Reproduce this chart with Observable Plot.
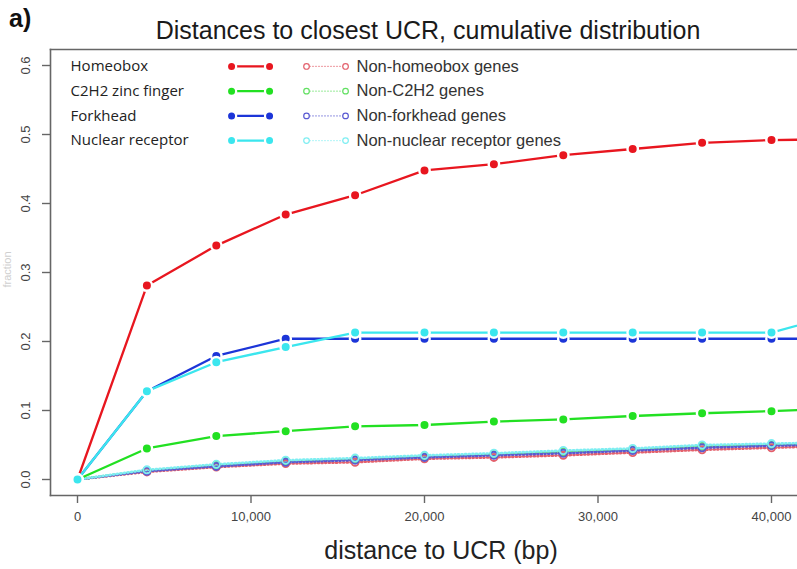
<!DOCTYPE html>
<html>
<head>
<meta charset="utf-8">
<script src="https://cdn.jsdelivr.net/npm/d3@7"></script>
<script src="https://cdn.jsdelivr.net/npm/@observablehq/plot@0.6"></script>
<style>
  html, body { margin: 0; padding: 0; background: #fff; overflow: hidden; }
  #wrap { position: relative; width: 797px; height: 569px; overflow: hidden; font-family: "Liberation Sans", Arial, sans-serif; }
  #head { position: relative; height: 44px; }
  #panel { position: absolute; left: 9px; top: 4px; font-size: 25px; font-weight: bold; color: #111; }
  #title { position: absolute; left: 0; width: 856px; top: 16px; text-align: center; font-size: 25px; color: #1a1a1a; }
  #ylab { position: absolute; left: -23px; top: 263px; width: 60px; text-align: center; transform: rotate(-90deg); font-size: 11px; line-height: 13px; color: #cfcfcf; }
  #xlab { position: absolute; left: 0; width: 882px; top: 536px; text-align: center; font-size: 25px; color: #222; }
</style>
</head>
<body>
<div id="wrap">
  <div id="head">
    <div id="panel">a)</div>
    <div id="title">Distances to closest UCR, cumulative distribution</div>
  </div>
  <div id="chart"></div>
  <div id="ylab">fraction</div>
  <div id="xlab">distance to UCR (bp)</div>
</div>
<script>
// Distance bins (bp) at which the cumulative fraction was evaluated
const distances = [0, 4000, 8000, 12000, 16000, 20000, 24000, 28000, 32000, 36000, 40000, 44000];

// Cumulative fraction of genes within each distance of the closest UCR
const homeobox        = [0, 0.281, 0.339, 0.384, 0.412, 0.448, 0.457, 0.470, 0.479, 0.488, 0.492, 0.493];
const c2h2            = [0, 0.045, 0.063, 0.070, 0.077, 0.079, 0.084, 0.087, 0.092, 0.096, 0.099, 0.103];
const forkhead        = [0, 0.128, 0.179, 0.204, 0.204, 0.204, 0.204, 0.204, 0.204, 0.204, 0.204, 0.204];
const nuclearReceptor = [0, 0.128, 0.170, 0.192, 0.213, 0.213, 0.213, 0.213, 0.213, 0.213, 0.213, 0.240];

const nonHomeobox        = [0, 0.011, 0.018, 0.023, 0.025, 0.030, 0.032, 0.035, 0.039, 0.043, 0.046, 0.049];
const nonC2h2            = [0, 0.013, 0.021, 0.026, 0.029, 0.033, 0.036, 0.040, 0.043, 0.048, 0.050, 0.052];
const nonForkhead        = [0, 0.012, 0.019, 0.025, 0.028, 0.032, 0.035, 0.038, 0.042, 0.046, 0.049, 0.051];
const nonNuclearReceptor = [0, 0.014, 0.022, 0.028, 0.031, 0.035, 0.038, 0.042, 0.045, 0.050, 0.052, 0.054];

// Legend labels
const familyLabels = ["Homeobox", "C2H2 zinc finger", "Forkhead", "Nuclear receptor"];
const otherLabels  = ["Non-homeobox genes", "Non-C2H2 genes", "Non-forkhead genes", "Non-nuclear receptor genes"];

// Axis ticks
const xTicks = [0, 10000, 20000, 30000, 40000];
const yTicks = [0, 0.1, 0.2, 0.3, 0.4, 0.5, 0.6];

// Styling
const familyColors = ["#e8161f", "#22e022", "#1c35d8", "#3be6ee"];
const otherColors  = ["#e3606c", "#62e062", "#5a5ad2", "#7eeef2"];
const familyValues = [homeobox, c2h2, forkhead, nuclearReceptor];
const otherValues  = [nonHomeobox, nonC2h2, nonForkhead, nonNuclearReceptor];

const rows = vals => distances.map((d, i) => ({d, v: vals[i]}));

// Legend layout in data units (drawn inside the frame, top-left)
const legTop = 0.5986, legStep = 0.0358;
const legX = {label: -400, s0: 8880, s1: 11070, o0: 13200, o1: 15450, text: 16080};
const rowY = i => legTop - i * legStep;

const marks = [];

// Background series: dotted lines with open circles
otherValues.forEach((vals, k) => {
  marks.push(Plot.line(rows(vals), {x: "d", y: "v", stroke: otherColors[k], strokeWidth: 2.6, strokeDasharray: "1,2.6", clip: true}));
});
otherValues.forEach((vals, k) => {
  marks.push(Plot.dot(rows(vals), {x: "d", y: "v", r: 3.6, stroke: otherColors[k], strokeWidth: 1.8, fill: "none", clip: true}));
});

// Gene-family series: solid lines broken around filled points
familyValues.forEach((vals, k) => {
  marks.push(Plot.line(rows(vals), {x: "d", y: "v", stroke: familyColors[k], strokeWidth: 2.3, clip: true}));
  marks.push(Plot.dot(rows(vals), {x: "d", y: "v", r: 5.2, fill: familyColors[k], stroke: "white", strokeWidth: 2.4, clip: true}));
});

// Frame (left, top, bottom sides)
marks.push(Plot.frame({anchor: "left", stroke: "#666", strokeWidth: 1.6}));
marks.push(Plot.frame({anchor: "top", stroke: "#666", strokeWidth: 1.6}));
marks.push(Plot.frame({anchor: "bottom", stroke: "#666", strokeWidth: 1.6}));

// Axes
marks.push(Plot.axisX({ticks: xTicks, tickFormat: d3.format(","), tickSize: 8, tickPadding: 8, label: null, stroke: "#666", strokeWidth: 1.4, fill: "#444", fontSize: 13}));
marks.push(Plot.axisY({ticks: yTicks, tickSize: 8, tickFormat: () => "", label: null, stroke: "#666", strokeWidth: 1.4}));
marks.push(Plot.text(yTicks, {y: d => d, text: d => d.toFixed(1), frameAnchor: "left", dx: -25, rotate: -90, textAnchor: "middle", fill: "#444", fontSize: 13}));

// Legend
familyLabels.forEach((lab, i) => {
  const y = rowY(i);
  marks.push(Plot.text([lab], {x: legX.label, y, text: d => d, textAnchor: "start", fontSize: 15, fontFamily: "Open Sans", fill: "#222"}));
  marks.push(Plot.line([{x: legX.s0, y}, {x: legX.s1, y}], {x: "x", y: "y", stroke: familyColors[i], strokeWidth: 2.3}));
  marks.push(Plot.dot([{x: legX.s0, y}, {x: legX.s1, y}], {x: "x", y: "y", r: 4.6, fill: familyColors[i], stroke: "white", strokeWidth: 2.2}));
  marks.push(Plot.line([{x: legX.o0, y}, {x: legX.o1, y}], {x: "x", y: "y", stroke: otherColors[i], strokeOpacity: 0.55, strokeWidth: 1.2, strokeDasharray: "1,2"}));
  marks.push(Plot.dot([{x: legX.o0, y}, {x: legX.o1, y}], {x: "x", y: "y", r: 2.8, fill: "white", stroke: otherColors[i], strokeWidth: 1.2}));
  marks.push(Plot.text([otherLabels[i]], {x: legX.text, y, text: d => d, textAnchor: "start", fontSize: 16.5, fill: "#333"}));
});

const chart = Plot.plot({
  width: 797,
  height: 486,
  marginLeft: 50,
  marginRight: 0,
  marginTop: 5,
  marginBottom: 35,
  x: {domain: [-1556, 41499]},
  y: {domain: [-0.0232, 0.6232]},
  style: {fontFamily: "Liberation Sans, Arial, sans-serif", fontSize: "13px", background: "white", overflow: "hidden"},
  marks
});
document.getElementById("chart").appendChild(chart);
</script>
</body>
</html>
